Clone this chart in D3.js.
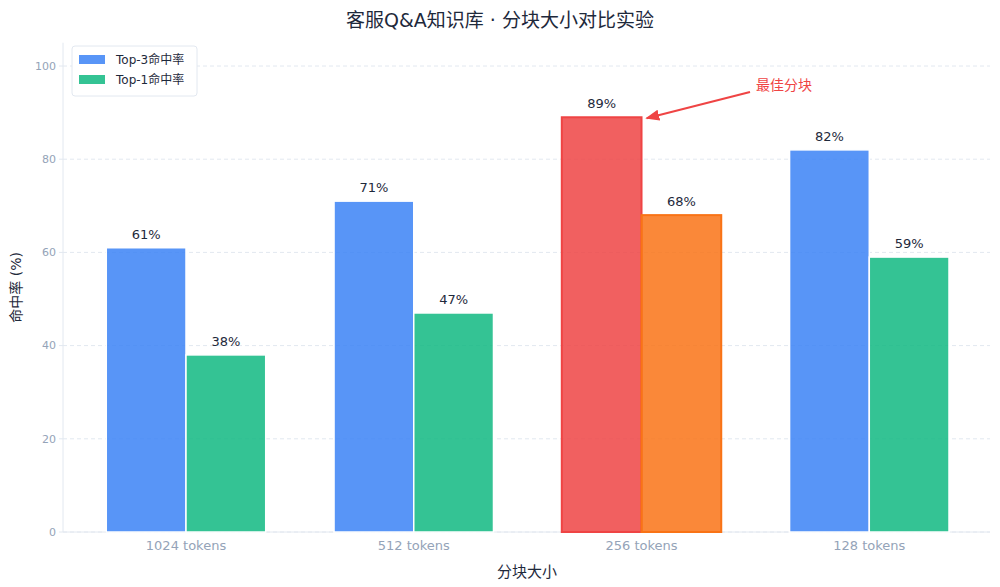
<!DOCTYPE html>
<html><head><meta charset="utf-8">
<script src="https://cdn.jsdelivr.net/npm/d3@7"></script>
<style>
body{margin:0;background:#fff;font-family:"DejaVu Sans","Noto Sans CJK SC",sans-serif;}
</style></head>
<body><svg id="chart" width="1000" height="587"></svg>
<script>
const categories = ['1024 tokens', '512 tokens', '256 tokens', '128 tokens'];
const top3 = [61, 71, 89, 82];
const top1 = [38, 47, 68, 59];
const yTicks = [0, 20, 40, 60, 80, 100];
const best = 2;

const svg = d3.select('#chart');
const m = {l: 63, r: 990, t: 42.7, b: 532};
const x = d3.scaleLinear().domain([-0.54, 3.53]).range([m.l, m.r]);
const y = d3.scaleLinear().domain([0, 105]).range([m.b, m.t]);
const bw = 0.35;
const font = '"DejaVu Sans","Noto Sans CJK SC",sans-serif';

// grid
svg.append('g').selectAll('line').data(yTicks).join('line')
  .attr('x1', m.l).attr('x2', m.r).attr('y1', d => y(d)).attr('y2', d => y(d))
  .attr('stroke', '#e2e8f0').attr('stroke-dasharray', '4,3');

// spines
svg.append('line').attr('x1', m.l).attr('x2', m.l).attr('y1', m.t).attr('y2', m.b).attr('stroke', '#e2e8f0');
svg.append('line').attr('x1', m.l).attr('x2', m.r).attr('y1', m.b).attr('y2', m.b).attr('stroke', '#e2e8f0');

// y ticks
const yt = svg.append('g').selectAll('g').data(yTicks).join('g');
yt.append('line').attr('x1', m.l - 4).attr('x2', m.l).attr('y1', d => y(d)).attr('y2', d => y(d)).attr('stroke', '#e2e8f0');
yt.append('text').attr('x', m.l - 7).attr('y', d => y(d)).attr('dy', '0.35em').attr('text-anchor', 'end')
  .attr('fill', '#94a3b8').attr('font-size', 11).attr('font-family', font).text(d => d);

// x ticks
svg.append('g').selectAll('text').data(categories).join('text')
  .attr('x', (d, i) => x(i)).attr('y', m.b + 18).attr('text-anchor', 'middle')
  .attr('fill', '#94a3b8').attr('font-size', 13).attr('font-family', font).text(d => d);

function bars(vals, off, col, hiCol) {
  const g = svg.append('g');
  g.selectAll('rect').data(vals).join('rect')
    .attr('x', (d, i) => x(i + off - bw / 2)).attr('width', x(bw) - x(0))
    .attr('y', d => y(d)).attr('height', d => y(0) - y(d))
    .attr('fill', (d, i) => i === best ? hiCol : col).attr('fill-opacity', 0.85)
    .attr('stroke', (d, i) => i === best ? hiCol : '#fff').attr('stroke-width', (d, i) => i === best ? 2 : 1.5);
  g.selectAll('text').data(vals).join('text')
    .attr('x', (d, i) => x(i + off)).attr('y', d => y(d) - 9).attr('text-anchor', 'middle')
    .attr('fill', '#1e293b').attr('font-size', 13).attr('font-family', font).text(d => d + '%');
}
bars(top3, -bw / 2, '#3b82f6', '#ef4444');
bars(top1, bw / 2, '#10b981', '#f97316');

// annotation
svg.append('defs').append('marker').attr('id', 'ah').attr('viewBox', '0 0 10 10').attr('refX', 9).attr('refY', 5)
  .attr('markerWidth', 7).attr('markerHeight', 7).attr('orient', 'auto')
  .append('path').attr('d', 'M0,1 L10,5 L0,9 Z').attr('fill', '#ef4444');
svg.append('line').attr('x1', 750).attr('y1', 92).attr('x2', x(best - bw / 2) + 40 + 5).attr('y2', y(top3[best]) + 1)
  .attr('stroke', '#ef4444').attr('stroke-width', 2).attr('marker-end', 'url(#ah)');
svg.append('text').attr('x', 756).attr('y', 90).attr('fill', '#ef4444').attr('font-size', 14).attr('font-family', font).text('最佳分块');

// legend
const lg = svg.append('g').attr('transform', 'translate(72,46)');
lg.append('rect').attr('width', 125).attr('height', 50).attr('rx', 3).attr('fill', '#fff').attr('stroke', '#e2e8f0');
[['Top-3命中率', '#3b82f6'], ['Top-1命中率', '#10b981']].forEach((d, i) => {
  lg.append('rect').attr('x', 7).attr('y', 9 + i * 20).attr('width', 26).attr('height', 9).attr('fill', d[1]).attr('fill-opacity', 0.85);
  lg.append('text').attr('x', 44).attr('y', 18 + i * 20).attr('font-size', 12).attr('fill', '#1e293b').attr('font-family', font).text(d[0]);
});

// titles
svg.append('text').attr('x', 500).attr('y', 27).attr('text-anchor', 'middle').attr('font-size', 19)
  .attr('fill', '#1e293b').attr('font-family', font).text('客服Q&A知识库 · 分块大小对比实验');
svg.append('text').attr('x', 527).attr('y', 577).attr('text-anchor', 'middle').attr('font-size', 15)
  .attr('fill', '#1e293b').attr('font-family', font).text('分块大小');
svg.append('text').attr('transform', 'translate(21,' + ((m.t + m.b) / 2) + ') rotate(-90)').attr('text-anchor', 'middle')
  .attr('font-size', 14).attr('fill', '#1e293b').attr('font-family', font).text('命中率 (%)');
</script></body></html>
